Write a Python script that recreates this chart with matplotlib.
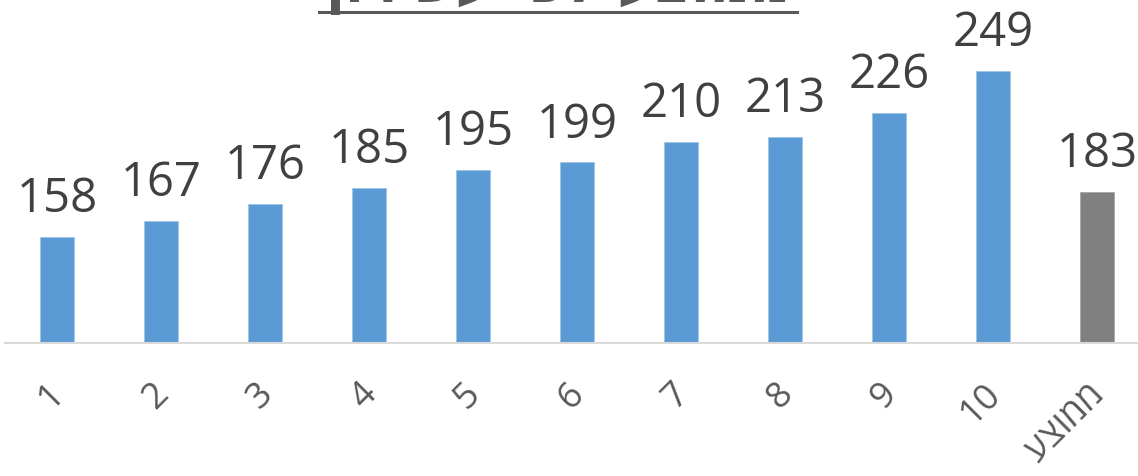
import matplotlib
matplotlib.use("Agg")
import matplotlib.pyplot as plt
from matplotlib.lines import Line2D
from matplotlib.transforms import ScaledTranslation

categories = ["1", "2", "3", "4", "5", "6", "7", "8", "9", "10", "ממוצע"]
values = [158, 167, 176, 185, 195, 199, 210, 213, 226, 249, 183]
colors = ["#5B9BD5"] * 10 + ["#808080"]
title = "ממוצע לפי עשירון"

def rtl(s):
    return s[::-1] if any('\u0590' <= c <= '\u05FF' for c in s) else s

W, H = 1138, 476
fig = plt.figure(figsize=(W / 100, H / 100), dpi=100)
ax = fig.add_axes([5 / W, (H - 343) / H, (1138 - 5) / W, 343 / H])

x = list(range(len(categories)))
bars = ax.bar(x, values, width=0.32, color=colors, edgecolor="#9DC3E6", linewidth=0.6, zorder=2)
for b in bars[-1:]:
    b.set_edgecolor("#A6A6A6")

ax.set_xlim(-0.5, (1138 - 57) / 104)
ax.set_ylim(100, 100 + 343 / 1.824)

for xi, v in zip(x, values):
    ax.annotate(str(v), (xi, v), xytext=(0, 10), textcoords="offset points",
                ha="center", va="bottom", fontsize=34, color="#404040", family="Open Sans")

ax.set_xticks(x)
ax.set_xticklabels([rtl(c) for c in categories], rotation=45, ha="right", va="top",
                   fontsize=26, color="#595959", family=["Open Sans", "DejaVu Sans"])
ax.tick_params(axis="x", length=0, pad=24)
off = ScaledTranslation(15 / 100, 0, fig.dpi_scale_trans)
for lbl in ax.get_xticklabels():
    lbl.set_transform(lbl.get_transform() + off)
ax.tick_params(axis="y", left=False, labelleft=False)
for s in ["top", "right", "left"]:
    ax.spines[s].set_visible(False)
ax.spines["bottom"].set_color("#D9D9D9")
ax.spines["bottom"].set_linewidth(1.5)

# Title (cut off at top of figure in reference)
fig.text(558 / W, 1 - 2 / H, rtl(title), ha="center", va="baseline", fontsize=40,
         fontweight="bold", color="#595959", family=["DejaVu Sans"])
fig.add_artist(Line2D([319 / W, 797 / W], [1 - 11.5 / H, 1 - 11.5 / H],
                      transform=fig.transFigure, color="#595959", linewidth=2.2))

fig.savefig("out.png", dpi=100)
